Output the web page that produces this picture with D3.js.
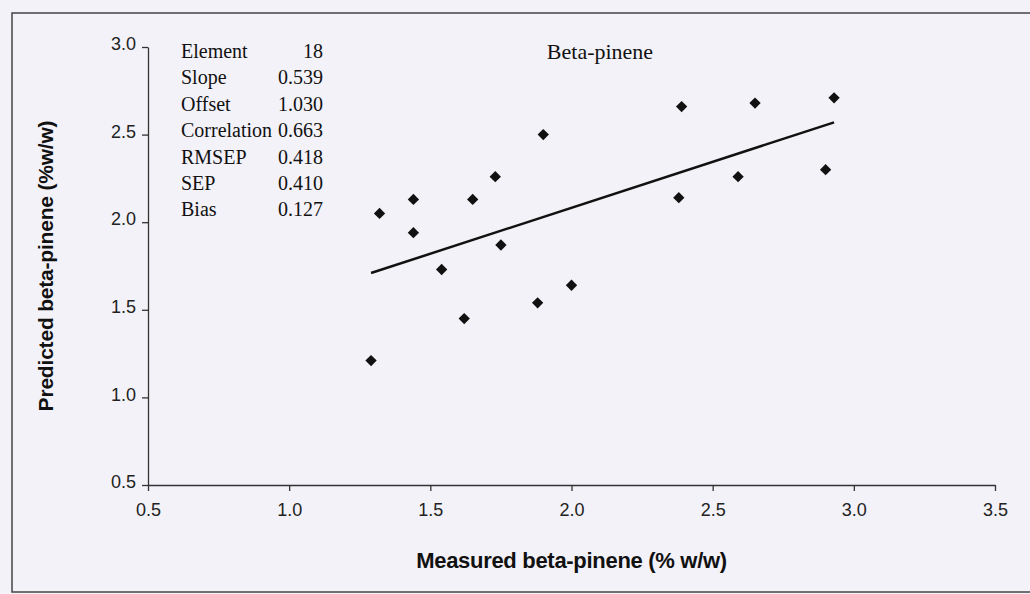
<!DOCTYPE html>
<html>
<head>
<meta charset="utf-8">
<script src="https://cdn.jsdelivr.net/npm/d3@7"></script>
<style>
  body { margin: 0; background: #f3f2f8; }
  svg { display: block; }
</style>
</head>
<body>
<div id="chart"></div>
<script>
// measured vs predicted beta-pinene (% w/w)
const measured  = [1.29, 1.32, 1.44, 1.44, 1.54, 1.62, 1.65, 1.73, 1.75, 1.88, 1.90, 2.00, 2.38, 2.39, 2.59, 2.65, 2.90, 2.93];
const predicted = [1.21, 2.05, 2.13, 1.94, 1.73, 1.45, 2.13, 2.26, 1.87, 1.54, 2.50, 1.64, 2.14, 2.66, 2.26, 2.68, 2.30, 2.71];
// fitted line endpoints
const fitX = [1.29, 2.93];
const fitY = [1.71, 2.57];
const xTicks = [0.5, 1.0, 1.5, 2.0, 2.5, 3.0, 3.5];
const yTicks = [0.5, 1.0, 1.5, 2.0, 2.5, 3.0];
const statLabels = ["Element", "Slope", "Offset", "Correlation", "RMSEP", "SEP", "Bias"];
const statValues = ["18", "0.539", "1.030", "0.663", "0.418", "0.410", "0.127"];

const width = 1030, height = 594;
const margin = { top: 47, right: 35, bottom: 109, left: 148 };
const sans = "Liberation Sans, Arial, sans-serif";
const serif = "Liberation Serif, Times New Roman, serif";

const svg = d3.select("#chart").append("svg")
    .attr("width", width)
    .attr("height", height);

// outer frame
svg.append("rect")
    .attr("x", 12).attr("y", 13)
    .attr("width", width + 10).attr("height", 579)
    .attr("fill", "none")
    .attr("stroke", "#444")
    .attr("stroke-width", 1.5);

const x = d3.scaleLinear().domain([0.5, 3.5]).range([margin.left, width - margin.right]);
const y = d3.scaleLinear().domain([0.5, 3.0]).range([height - margin.bottom, margin.top]);

const g = svg.append("g");

// y axis
const yAxis = g.append("g")
    .attr("transform", "translate(" + margin.left + ",0)")
    .call(d3.axisLeft(y).tickValues(yTicks).tickFormat(d3.format(".1f")).tickSizeInner(6).tickSizeOuter(0));
yAxis.selectAll("text")
    .attr("font-family", sans)
    .attr("font-size", 18)
    .attr("fill", "#222")
    .attr("dx", "-3")
    .attr("dy", "0.15em");

// x axis
const xAxis = g.append("g")
    .attr("transform", "translate(0," + (height - margin.bottom) + ")")
    .call(d3.axisBottom(x).tickValues(xTicks).tickFormat(d3.format(".1f")).tickSizeInner(6).tickSizeOuter(0));
xAxis.selectAll("text")
    .attr("font-family", sans)
    .attr("font-size", 18)
    .attr("fill", "#222")
    .attr("dy", "1.2em");

svg.selectAll(".domain, .tick line").attr("stroke", "#333").attr("stroke-width", 1.3);

// axis titles
svg.append("text")
    .attr("x", x(2.0))
    .attr("y", 568)
    .attr("text-anchor", "middle")
    .attr("font-family", sans)
    .attr("font-weight", "bold")
    .attr("font-size", 22)
    .attr("letter-spacing", -0.3)
    .attr("fill", "#111")
    .text("Measured beta-pinene (% w/w)");

svg.append("text")
    .attr("transform", "translate(53," + y(1.75) + ") rotate(-90)")
    .attr("text-anchor", "middle")
    .attr("font-family", sans)
    .attr("font-weight", "bold")
    .attr("font-size", 21)
    .attr("letter-spacing", -0.2)
    .attr("fill", "#111")
    .text("Predicted beta-pinene (%w/w)");

// chart title
svg.append("text")
    .attr("x", 600)
    .attr("y", 59)
    .attr("text-anchor", "middle")
    .attr("font-family", serif)
    .attr("font-size", 22)
    .attr("fill", "#111")
    .text("Beta-pinene");

// stats block
const stats = svg.append("g")
    .attr("font-family", serif)
    .attr("font-size", 20)
    .attr("fill", "#111");
stats.selectAll(".lab")
    .data(statLabels)
    .enter().append("text")
    .attr("x", 181)
    .attr("y", (d, i) => 58 + i * 26.4)
    .text(d => d);
stats.selectAll(".val")
    .data(statValues)
    .enter().append("text")
    .attr("x", 323)
    .attr("y", (d, i) => 58 + i * 26.4)
    .attr("text-anchor", "end")
    .text(d => d);

// regression line
svg.append("line")
    .attr("x1", x(fitX[0])).attr("y1", y(fitY[0]))
    .attr("x2", x(fitX[1])).attr("y2", y(fitY[1]))
    .attr("stroke", "#111")
    .attr("stroke-width", 2.5);

// points
const pts = measured.map((m, i) => ({ m: m, p: predicted[i] }));
svg.selectAll(".pt")
    .data(pts)
    .enter().append("path")
    .attr("d", d3.symbol(d3.symbolSquare, 64))
    .attr("transform", d => "translate(" + x(d.m) + "," + y(d.p) + ") rotate(45)")
    .attr("fill", "#111");
</script>
</body>
</html>
